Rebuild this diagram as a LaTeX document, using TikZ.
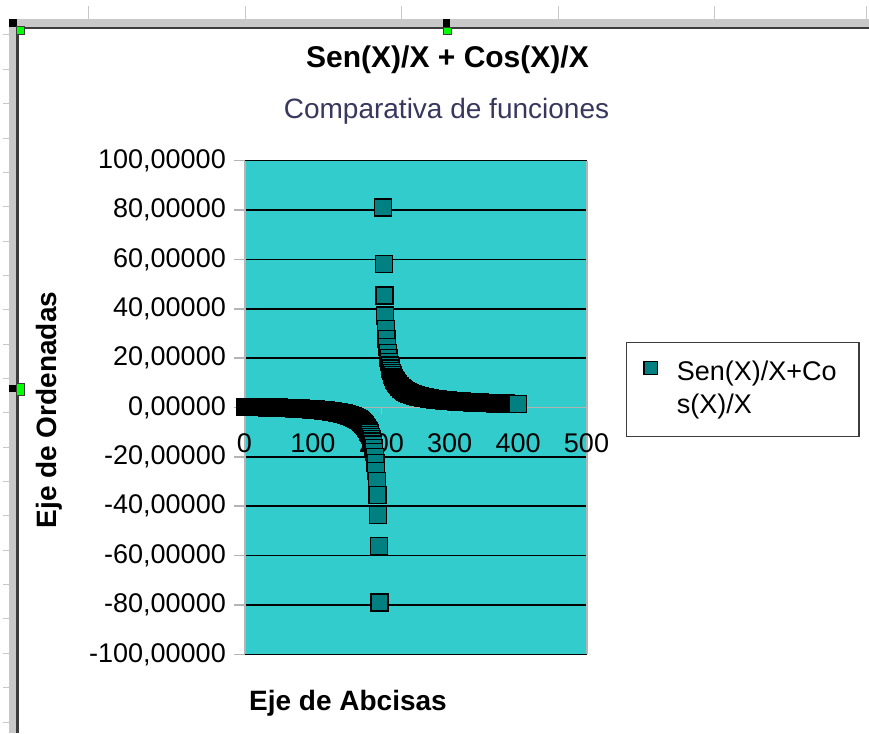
\documentclass[tikz,border=0pt]{standalone}
\usepackage{fontspec}
\setmainfont{Liberation Sans}
\definecolor{framegray}{HTML}{C8C8C8}
\definecolor{darkline}{HTML}{3C3C3C}
\definecolor{colgray}{HTML}{C8C8C8}
\definecolor{plotc}{HTML}{33CCCC}
\definecolor{axisgray}{HTML}{B4B4B4}
\definecolor{mkfill}{HTML}{008080}
\definecolor{subc}{HTML}{38385F}
\definecolor{handlegreen}{HTML}{00FF00}
\tikzset{
  mk/.style={fill=mkfill, draw=black, line width=1.4pt},
  ticklab/.style={font=\fontsize{27}{32}\selectfont, inner sep=0pt},
  boldlab/.style={font=\bfseries\fontsize{28}{32}\selectfont, inner sep=0pt},
  gridline/.style={black, line width=1.5pt},
  axline/.style={axisgray, line width=1.5pt},
}
\begin{document}
\begin{tikzpicture}[x=1pt,y=-1pt]
\useasboundingbox (0,0) rectangle (869,733);
\fill[white] (0,0) rectangle (869,733);
% spreadsheet ruler ticks
\foreach \cx in {88,245,401,558,714,866} \draw[colgray, line width=1pt] (\cx,6) -- (\cx,19);
\foreach \k in {0,...,20} \draw[colgray, line width=1pt] (3,{35+34.35*\k}) -- (9,{35+34.35*\k});
% chart frame
\fill[framegray] (9,19) rectangle (869,27);
\fill[framegray] (9,19) rectangle (16,733);
\fill[darkline] (16,27) rectangle (869,29.5);
\fill[darkline] (16,27) rectangle (18.5,733);
% handles
\fill[black] (9,19) rectangle (16.7,26.7);
\filldraw[fill=handlegreen, draw=darkline, line width=0.5pt] (16.7,26.7) rectangle (24,34);
\fill[black] (443,19) rectangle (450,27);
\filldraw[fill=handlegreen, draw=darkline, line width=0.5pt] (443.5,27) rectangle (451,34);
\fill[black] (9,385) rectangle (16.5,392);
\filldraw[fill=handlegreen, draw=darkline, line width=0.5pt] (16.5,383) rectangle (24,395);
% titles
\node[boldlab, font=\bfseries\fontsize{30}{34}\selectfont] (title) at (447.5,60) {Sen(X)/X + Cos(X)/X};
\node[ticklab, text=subc, font=\fontsize{28}{32}\selectfont] (sub) at (446.5,111) {Comparativa de funciones};
% plot area
\fill[plotc] (244.5,160.7) rectangle (586.5,654.3);
\foreach \v in {-100,-80,...,100} {
  \pgfmathsetmacro\gy{407.5-2.4682*\v}
  \ifnum\v=0
    \draw[axline] (244.5,\gy) -- (586.5,\gy);
  \else
    \draw[gridline] (244.5,\gy) -- (586.5,\gy);
  \fi
  \draw[axline] (234,\gy) -- (244.5,\gy);
  \node[ticklab, anchor=east] (yl\v) at (226,\gy) {\v,00000};
}
\draw[axisgray, line width=2pt] (244.5,160.7) -- (244.5,654.3);
\draw[axisgray, line width=2pt] (586.5,160.7) -- (586.5,654.3);
\foreach \l [count=\i from 0] in {0,100,200,300,400,500} {
  \pgfmathsetmacro\gx{244.5+68.4*\i}
  \draw[axline] (\gx,407.5) -- (\gx,414);
  \node[ticklab] (xl\i) at (\gx,443) {\l};
}
% data markers
\foreach \j in {0,...,399} {
  \pgfmathsetmacro\tv{(\j+0.5-200)/200}
  \pgfmathsetmacro\yy{(sin(\tv r)+cos(\tv r))/\tv}
  \pgfmathparse{abs(\yy)<100.5 ? 1 : 0}
  \ifnum\pgfmathresult=1
    \pgfmathsetmacro\px{244.5+0.684*(\j+0.5)}
    \pgfmathsetmacro\py{407.5-2.4682*\yy}
    \filldraw[mk] ({\px-8.5},{\py-8.5}) rectangle ({\px+8.5},{\py+8.5});
  \fi
}
% legend
\node[draw=darkline, line width=1.5pt, fill=white, minimum width=232.3pt, minimum height=94pt, inner sep=0pt] (legend) at (742.85,389.7) {};
\filldraw[mk] (644,361.3) rectangle (657.4,374.7);
\node[ticklab, anchor=base west] (leg1) at (676.7,380) {Sen(X)/X+Co};
\node[ticklab, anchor=base west] (leg2) at (676.7,413) {s(X)/X};
% axis titles
\node[boldlab, rotate=90] (ylab) at (49,410) {Eje de Ordenadas};
\node[boldlab] (xlab) at (348,703) {Eje de Abcisas};
\end{tikzpicture}
\end{document}
